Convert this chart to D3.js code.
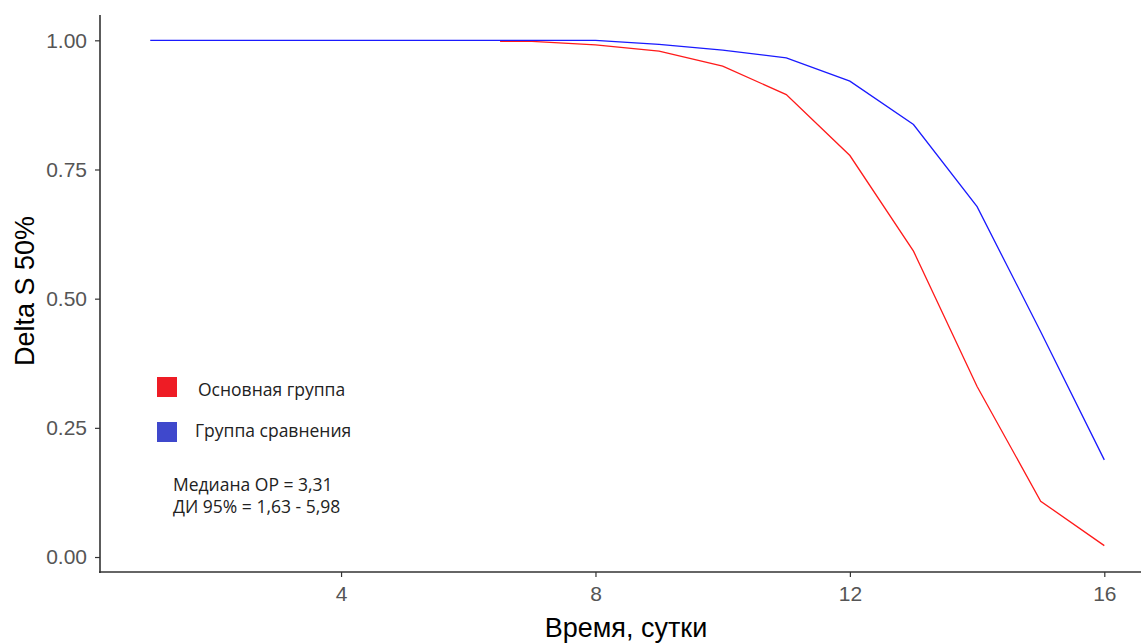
<!DOCTYPE html>
<html>
<head>
<meta charset="utf-8">
<script src="https://cdn.jsdelivr.net/npm/d3@7"></script>
<style>
  body { margin: 0; background: #fff; }
  svg { display: block; }
</style>
</head>
<body>
<div id="chart"></div>
<script>
// данные кривых
const timeBlue = [1, 2, 3, 4, 5, 6, 7, 8, 9, 10, 11, 12, 13, 14, 15, 16]
const blueValues = [1, 1, 1, 1, 1, 1, 1, 1, 0.992, 0.981, 0.966, 0.921, 0.837, 0.678, 0.436, 0.188]
const timeRed = [6.5, 7, 8, 9, 10, 11, 12, 13, 14, 15, 16]
const redValues = [0.998, 0.998, 0.991, 0.979, 0.950, 0.895, 0.777, 0.592, 0.330, 0.108, 0.022]
const xTicks = [4, 8, 12, 16]
const yTicks = [0, 0.25, 0.5, 0.75, 1]
const legendNames = ['Основная группа', 'Группа сравнения']
const noteLines = ['Медиана ОР = 3,31', 'ДИ 95% = 1,63 - 5,98']

let w = 1141,
  h = 643
let plotLeft = 100,
  plotTop = 15,
  plotBottom = 572

let svg = d3.select('#chart').append('svg')
  .attr('width', w)
  .attr('height', h)

let x = d3.scaleLinear().domain([0.21, 16.75]).range([plotLeft, 1152])
let y = d3.scaleLinear().domain([-0.029, 1.049]).range([plotBottom, plotTop])

let xAxis = svg.append('g')
  .attr('transform', `translate(0,${plotBottom})`)
  .call(d3.axisBottom(x).tickValues(xTicks).tickFormat(d3.format('d')).tickSize(5).tickSizeOuter(0))
xAxis.select('.domain').remove()
xAxis.append('line').attr('x1', plotLeft - 1).attr('x2', w).attr('stroke', '#333').attr('stroke-width', 1.6)
xAxis.selectAll('.tick line').attr('stroke', '#333').attr('stroke-width', 1.2)
xAxis.selectAll('.tick text')
  .attr('y', 14)
  .attr('dy', '0.71em')
  .attr('font-family', 'Liberation Sans, Arial, sans-serif')
  .attr('font-size', '21px')
  .attr('fill', '#555')

let yAxis = svg.append('g')
  .attr('transform', `translate(${plotLeft},0)`)
  .call(d3.axisLeft(y).tickValues(yTicks).tickFormat(d3.format('.2f')).tickSize(5).tickSizeOuter(0))
yAxis.select('.domain').remove()
yAxis.append('line').attr('y1', plotTop).attr('y2', plotBottom + 1).attr('stroke', '#333').attr('stroke-width', 1.6)
yAxis.selectAll('.tick line').attr('stroke', '#333').attr('stroke-width', 1.2)
yAxis.selectAll('.tick text')
  .attr('x', -13)
  .attr('font-family', 'Liberation Sans, Arial, sans-serif')
  .attr('font-size', '21px')
  .attr('fill', '#555')

let line = d3.line().x(d => x(d[0])).y(d => y(d[1]))

svg.append('path')
  .datum(d3.zip(timeRed, redValues))
  .attr('d', line)
  .attr('fill', 'none')
  .attr('stroke', '#ff1a1a')
  .attr('stroke-width', 1.3)

svg.append('path')
  .datum(d3.zip(timeBlue, blueValues))
  .attr('d', line)
  .attr('fill', 'none')
  .attr('stroke', '#1a1aff')
  .attr('stroke-width', 1.3)

// заголовки осей
svg.append('text')
  .text('Время, сутки')
  .attr('x', 626)
  .attr('y', 637)
  .attr('text-anchor', 'middle')
  .attr('font-family', 'Liberation Sans, Arial, sans-serif')
  .attr('font-size', '27px')
  .attr('fill', '#000')

svg.append('text')
  .text('Delta S 50%')
  .attr('transform', 'translate(34,291) rotate(-90)')
  .attr('text-anchor', 'middle')
  .attr('font-family', 'Liberation Sans, Arial, sans-serif')
  .attr('font-size', '27px')
  .attr('fill', '#000')

// легенда
let legendColors = ['#ee1c25', '#3f48cc']
let legend = svg.append('g').selectAll('g').data(legendNames).enter().append('g')
  .attr('transform', (d, i) => `translate(157,${377 + i * 45})`)
legend.append('rect')
  .attr('width', 20)
  .attr('height', 20)
  .attr('fill', (d, i) => legendColors[i])
legend.append('text')
  .text(d => d)
  .attr('x', (d, i) => i === 0 ? 41 : 38)
  .attr('y', (d, i) => 19 - i * 4)
  .attr('font-family', 'Open Sans, sans-serif')
  .attr('font-size', '17.5px')
  .attr('fill', '#222')

svg.append('g').selectAll('text').data(noteLines).enter().append('text')
  .text(d => d)
  .attr('x', 173)
  .attr('y', (d, i) => 491 + i * 22)
  .attr('font-family', 'Open Sans, sans-serif')
  .attr('font-size', '17.5px')
  .attr('fill', '#222')
</script>
</body>
</html>
